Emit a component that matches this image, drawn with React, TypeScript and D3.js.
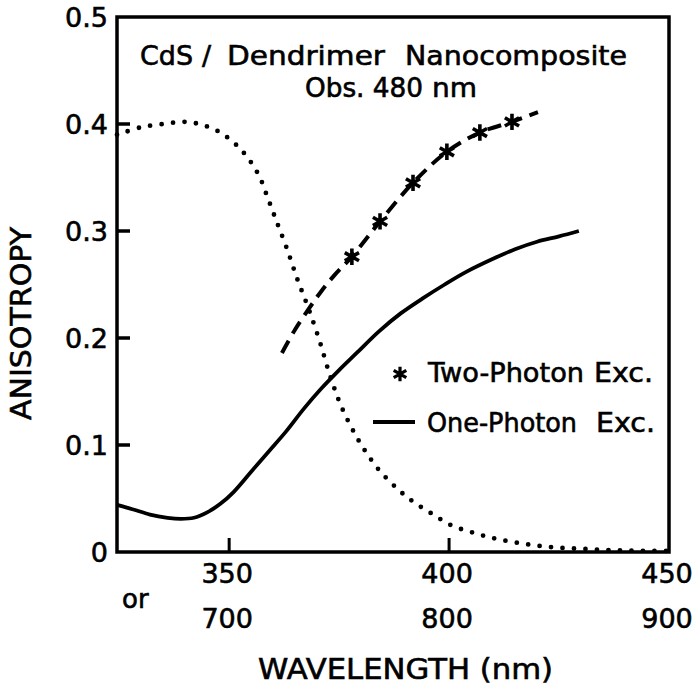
import React from "react";
import * as d3 from "d3";

const W = 700;
const H = 689;

// One-photon excitation anisotropy (solid line): [wavelength nm, anisotropy]
const onePhoton: [number, number][] = [
  [324.5, 0.044], [328, 0.040], [332, 0.035], [336, 0.032], [339, 0.031],
  [342, 0.032], [345, 0.037], [348, 0.045], [351, 0.056], [355, 0.075],
  [359, 0.094], [363, 0.113], [367, 0.134], [371, 0.153], [375, 0.170],
  [379, 0.186], [384, 0.206], [389, 0.223], [394, 0.237], [399, 0.250],
  [404, 0.262], [410, 0.274], [415, 0.283], [420, 0.290], [425, 0.295],
  [429.5, 0.300],
];

// Two-photon excitation (dashed line through the star points)
const twoPhotonLine: [number, number][] = [
  [362, 0.186], [365, 0.208], [368.4, 0.229], [371, 0.244], [374, 0.259],
  [377.9, 0.276], [384.3, 0.309], [391.8, 0.345], [399.5, 0.374],
  [407, 0.392], [414.3, 0.402], [420.2, 0.411],
];
const twoPhotonPoints: [number, number][] = [
  [377.9, 0.276], [384.3, 0.309], [391.8, 0.345], [399.5, 0.374],
  [407, 0.392], [414.3, 0.402],
];

// Dotted curve
const dotted: [number, number][] = [
  [324.5, 0.390], [326, 0.392], [330, 0.397], [335, 0.400], [340, 0.402],
  [344, 0.399], [348, 0.392], [352, 0.379], [355, 0.364], [357, 0.350],
  [358.5, 0.334], [360.5, 0.312], [363, 0.285], [365.5, 0.255], [368, 0.228],
  [370.5, 0.198], [373, 0.164], [375.5, 0.136], [378.5, 0.111], [381, 0.094],
  [384, 0.077], [388, 0.060], [391.5, 0.048], [396, 0.036], [400.5, 0.025],
  [405.5, 0.018], [410, 0.013], [415, 0.009], [420, 0.006], [425, 0.004],
  [430, 0.003], [435, 0.002], [440, 0.0015], [445, 0.001], [450, 0.001],
];

const yTicks = [0, 0.1, 0.2, 0.3, 0.4, 0.5];
const yTickLabels = ["0", "0.1", "0.2", "0.3", "0.4", "0.5"];
const xTicks = [350, 400, 450];
const xTickLabels1 = ["350", "400", "450"];
const xTickLabels2 = ["700", "800", "900"];

const FONT = "'DejaVu Sans', sans-serif";

export default function App() {
  const x = d3.scaleLinear().domain([324.5, 450]).range([117, 669]);
  const y = d3.scaleLinear().domain([0, 0.5]).range([552, 17]);

  const line = d3
    .line<[number, number]>()
    .x((d) => x(d[0]))
    .y((d) => y(d[1]))
    .curve(d3.curveCatmullRom.alpha(0.5));

  const star = d3.symbol().type(d3.symbolAsterisk).size(190)();
  const starSmall = d3.symbol().type(d3.symbolAsterisk).size(150)();

  const left = x(324.5);
  const right = x(450);
  const top = y(0.5);
  const bottom = y(0);

  const txt = { stroke: "#000", strokeWidth: 0.6, fill: "#000" } as const;

  return (
    <svg
      width={W}
      height={H}
      style={{ position: "absolute", left: 0, top: 0, display: "block", background: "#fff" }}
      fontFamily={FONT}
    >
      <rect x={0} y={0} width={W} height={H} fill="#fff" />
      {/* curves */}
      <path
        d={line(dotted) || ""}
        fill="none"
        stroke="#000"
        strokeWidth={4.8}
        strokeLinecap="round"
        strokeDasharray="0 11.5"
      />
      <path d={line(onePhoton) || ""} fill="none" stroke="#000" strokeWidth={3.8} />
      <path
        d={line(twoPhotonLine) || ""}
        fill="none"
        stroke="#000"
        strokeWidth={4}
        strokeDasharray="14 8"
      />
      {twoPhotonPoints.map((d, i) => (
        <path
          key={i}
          d={star || ""}
          transform={`translate(${x(d[0])},${y(d[1])})`}
          fill="none"
          stroke="#000"
          strokeWidth={3.6}
        />
      ))}

      {/* frame */}
      <rect
        x={left}
        y={top}
        width={right - left}
        height={bottom - top}
        fill="none"
        stroke="#000"
        strokeWidth={3.5}
      />

      {/* y ticks */}
      {yTicks.map((t, i) => (
        <g key={i}>
          {t > 0 && t < 0.5 && (
            <line x1={left} x2={left + 13} y1={y(t)} y2={y(t)} stroke="#000" strokeWidth={3.5} />
          )}
          <text x={108} y={y(t) + 10} textAnchor="end" fontSize={27} {...txt}>
            {yTickLabels[i]}
          </text>
        </g>
      ))}

      {/* x ticks */}
      {xTicks.map((t, i) => (
        <g key={i}>
          {t < 450 && (
            <line x1={x(t)} x2={x(t)} y1={bottom} y2={bottom - 14} stroke="#000" strokeWidth={3} />
          )}
          <text x={x(t) - 2} y={583} textAnchor="middle" fontSize={27} {...txt}>
            {xTickLabels1[i]}
          </text>
          <text x={x(t) - 2} y={628} textAnchor="middle" fontSize={27} {...txt}>
            {xTickLabels2[i]}
          </text>
        </g>
      ))}
      <text x={122} y={608} fontSize={26} {...txt}>or</text>

      {/* axis titles */}
      <text x={258} y={679} fontSize={28} textLength={295} lengthAdjust="spacingAndGlyphs" {...txt}>
        WAVELENGTH (nm)
      </text>
      <text
        transform="translate(31,420) rotate(-90)"
        x={0}
        y={0}
        fontSize={29}
        textLength={193}
        lengthAdjust="spacingAndGlyphs"
        {...txt}
      >
        ANISOTROPY
      </text>

      {/* title */}
      <text x={140} y={65} fontSize={27} textLength={53} lengthAdjust="spacingAndGlyphs" {...txt}>CdS</text>
      <text x={202} y={65} fontSize={27} {...txt}>/</text>
      <text x={227} y={65} fontSize={27} textLength={158} lengthAdjust="spacingAndGlyphs" {...txt}>Dendrimer</text>
      <text x={405} y={65} fontSize={27} textLength={222} lengthAdjust="spacingAndGlyphs" {...txt}>Nanocomposite</text>
      <text x={305} y={97} fontSize={26} textLength={118} lengthAdjust="spacingAndGlyphs" {...txt}>Obs. 480</text>
      <text x={432} y={97} fontSize={26} textLength={45} lengthAdjust="spacingAndGlyphs" {...txt}>nm</text>

      {/* legend */}
      <path d={starSmall || ""} transform="translate(400,374)" fill="none" stroke="#000" strokeWidth={3.2} />
      <text x={428} y={382} fontSize={26} textLength={156} lengthAdjust="spacingAndGlyphs" {...txt}>
        Two-Photon
      </text>
      <text x={594} y={382} fontSize={26} textLength={59} lengthAdjust="spacingAndGlyphs" {...txt}>
        Exc.
      </text>
      <line x1={373} x2={415} y1={422} y2={422} stroke="#000" strokeWidth={3.8} />
      <text x={427} y={432} fontSize={26} textLength={150} lengthAdjust="spacingAndGlyphs" {...txt}>
        One-Photon
      </text>
      <text x={596} y={432} fontSize={26} textLength={59} lengthAdjust="spacingAndGlyphs" {...txt}>
        Exc.
      </text>
    </svg>
  );
}
